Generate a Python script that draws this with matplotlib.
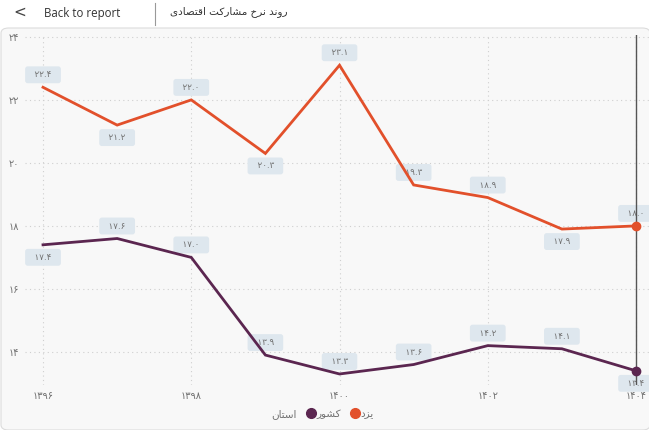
import matplotlib
matplotlib.use("Agg")
import matplotlib.pyplot as plt
from matplotlib.lines import Line2D
from matplotlib.patches import FancyBboxPatch

# ---------------------------------------------------------
# data
# ---------------------------------------------------------
years = [1396, 1397, 1398, 1399, 1400, 1401, 1402, 1403, 1404]
yazd = [22.4, 21.2, 22.0, 20.3, 23.1, 19.3, 18.9, 17.9, 18.0]
keshvar = [17.4, 17.6, 17.0, 13.9, 13.3, 13.6, 14.2, 14.1, 13.4]
# label above (+1) or below (-1) the point
yazd_pos = [1, -1, 1, -1, 1, 1, 1, -1, 1]
keshvar_pos = [-1, 1, 1, 1, 1, 1, 1, 1, -1]
xticks = [1396, 1398, 1400, 1402, 1404]
yticks = [14, 16, 18, 20, 22, 24]

title_txt = "روند نرخ مشارکت اقتصادی"
legend_title = "استان"
name_yazd = "یزد"
name_keshvar = "کشور"

C_YAZD = "#e2502b"
C_KESH = "#5b2650"
GRAY = "#707070"

# ---------------------------------------------------------
# minimal persian shaping (matplotlib has no bidi/joining)
# ---------------------------------------------------------
FORMS = {
    "ا": ("\uFE8D", "\uFE8E", None, None),
    "د": ("\uFEA9", "\uFEAA", None, None),
    "ر": ("\uFEAD", "\uFEAE", None, None),
    "ز": ("\uFEAF", "\uFEB0", None, None),
    "و": ("\uFEED", "\uFEEE", None, None),
    "ن": ("\uFEE5", "\uFEE6", "\uFEE7", "\uFEE8"),
    "خ": ("\uFEA5", "\uFEA6", "\uFEA7", "\uFEA8"),
    "م": ("\uFEE1", "\uFEE2", "\uFEE3", "\uFEE4"),
    "ش": ("\uFEB5", "\uFEB6", "\uFEB7", "\uFEB8"),
    "س": ("\uFEB1", "\uFEB2", "\uFEB3", "\uFEB4"),
    "ت": ("\uFE95", "\uFE96", "\uFE97", "\uFE98"),
    "ق": ("\uFED5", "\uFED6", "\uFED7", "\uFED8"),
    "ص": ("\uFEB9", "\uFEBA", "\uFEBB", "\uFEBC"),
    "ک": ("\uFB8E", "\uFB8F", "\uFB90", "\uFB91"),
    "ی": ("\uFBFC", "\uFBFD", "\uFBFE", "\uFBFF"),
}


def shape(text):
    out = []
    for i, ch in enumerate(text):
        if ch not in FORMS:
            out.append(ch)
            continue
        prev = text[i - 1] if i > 0 else None
        nxt = text[i + 1] if i + 1 < len(text) else None
        j_prev = prev in FORMS and FORMS[prev][2] is not None
        j_next = nxt in FORMS and FORMS[ch][2] is not None
        iso, fin, ini, med = FORMS[ch]
        if j_prev and j_next:
            out.append(med)
        elif j_prev:
            out.append(fin)
        elif j_next:
            out.append(ini)
        else:
            out.append(iso)
    return "".join(out)[::-1]


def fa(x):
    return str(x).translate(str.maketrans("0123456789", "۰۱۲۳۴۵۶۷۸۹"))


# ---------------------------------------------------------
# figure
# ---------------------------------------------------------
W, H = 649, 430
fig = plt.figure(figsize=(W / 100, H / 100), dpi=100, facecolor="white")

# panel background (behind the axes)
panel = FancyBboxPatch((1 / W, 0), 1.0, (H - 28) / H,
                       boxstyle="round,pad=0,rounding_size=0.012",
                       transform=fig.transFigure, facecolor="#f8f8f8",
                       edgecolor="#dcdcdc", lw=0.8, zorder=-10)
fig.patches.append(panel)

# header
fig.text(20 / W, 1 - 12 / H, "<", fontsize=11, color="#444444",
         ha="center", va="center", family="DejaVu Sans")
fig.text(44 / W, 1 - 13 / H, "Back to report", fontsize=8.3, color="#333333",
         ha="left", va="center", family=["Open Sans", "DejaVu Sans"])
fig.add_artist(Line2D([155 / W, 155 / W], [1 - 3 / H, 1 - 25 / H],
                      transform=fig.transFigure, color="#999999", lw=0.8))
fig.text(170 / W, 1 - 12 / H, shape(title_txt), fontsize=7.5, color="#333333",
         ha="left", va="center", family="DejaVu Sans")

# axes: left 25px, right 649px, top 35px, bottom 385px
ax = fig.add_axes([25 / W, 1 - 385 / H, (W - 25) / W, 350 / H])
ax.set_zorder(1)
ax.set_facecolor("none")
ax.set_xlim(1395.757, 1404.175)
ax.set_ylim(12.95, 24.06)
for s in ax.spines.values():
    s.set_visible(False)

ax.set_xticks(xticks)
ax.set_xticklabels([fa(v) for v in xticks])
ax.set_yticks(yticks)
ax.set_yticklabels([fa(v) for v in yticks])
ax.tick_params(length=0, labelsize=7, colors=GRAY, pad=4)
ax.tick_params(axis="y", pad=4)
ax.grid(True, ls=(0, (1, 3)), color="#cfcfcf", lw=0.8)
ax.set_axisbelow(True)

ax.axvline(years[-1], color="#555555", lw=1.0, zorder=6)

ax.plot(years, yazd, color=C_YAZD, lw=2.0, zorder=5, solid_joinstyle="miter")
ax.plot(years, keshvar, color=C_KESH, lw=2.0, zorder=5, solid_joinstyle="miter")
ax.plot(years[-1], yazd[-1], "o", color=C_YAZD, ms=6, zorder=7)
ax.plot(years[-1], keshvar[-1], "o", color=C_KESH, ms=6, zorder=7)

box = dict(boxstyle="round,pad=0.45,rounding_size=0.3", fc="#dee7ee", ec="none")
for vals, poss in [(yazd, yazd_pos), (keshvar, keshvar_pos)]:
    for x, v, p in zip(years, vals, poss):
        ax.annotate("  " + fa(f"{v:.1f}") + "  ", (x, v), xytext=(0, 9 * p),
                    textcoords="offset points", ha="center", va="center",
                    fontsize=6.3, color=GRAY, bbox=box, zorder=3)

# legend
handles = [Line2D([], [], ls="none"),
           Line2D([], [], ls="none", marker="o", color=C_KESH, ms=7),
           Line2D([], [], ls="none", marker="o", color=C_YAZD, ms=7)]
labels = [shape(legend_title), shape(name_keshvar), shape(name_yazd)]
leg = fig.legend(handles, labels, loc="center", ncol=3, frameon=False,
                 bbox_to_anchor=(318 / W, 1 - 414 / H), fontsize=7.5,
                 handlelength=0.7, handletextpad=0.2, columnspacing=1.0,
                 labelcolor=GRAY)

fig.savefig("out.png", dpi=100, facecolor="white")
